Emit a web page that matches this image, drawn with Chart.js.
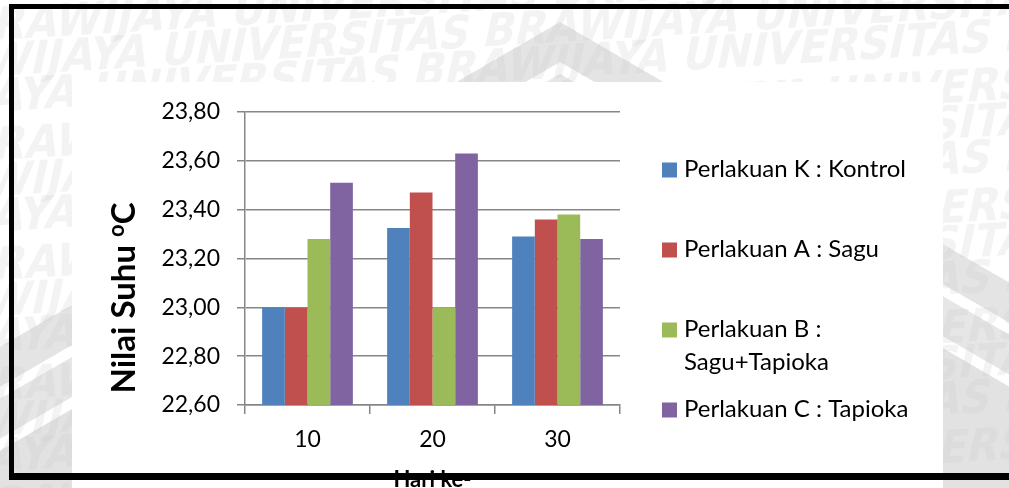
<!DOCTYPE html>
<html>
<head>
<meta charset="utf-8">
<title>Nilai Suhu</title>
<script src="https://cdn.jsdelivr.net/npm/chart.js@4.4.1/dist/chart.umd.min.js"></script>
<style>
  html, body { margin: 0; padding: 0; background: #fff; overflow: hidden; }
  #wrap { position: relative; width: 1009px; height: 488px; }
  canvas { display: block; }
</style>
</head>
<body>
<div id="wrap"><canvas id="chart" width="1009" height="488"></canvas></div>
<script>
// Temperature per observation day for each treatment
const days = ['10', '20', '30'];
const kontrol = [23.00, 23.325, 23.29];
const sagu = [22.997, 23.47, 23.36];
const saguTapioka = [23.28, 23.00, 23.38];
const tapioka = [23.51, 23.63, 23.28];

const seriesLabels = [
  ['Perlakuan K : Kontrol'],
  ['Perlakuan A : Sagu'],
  ['Perlakuan B :', 'Sagu+Tapioka'],
  ['Perlakuan C : Tapioka']
];
const seriesColors = ['#4F81BD', '#C0504D', '#9BBB59', '#8064A2'];
const yTicks = [22.6, 22.8, 23.0, 23.2, 23.4, 23.6, 23.8];
const yTitleParts = ['Nilai Suhu ', 'o', 'C'];
const xTitle = 'Hari ke-';
const watermarkWords = ['BRAWIJAYA', 'UNIVERSITAS'];

const FONT = 'Lato, "Open Sans", "DejaVu Sans", sans-serif';
const AXIS_GREY = '#868686';

// Page backdrop: faint lettering and logo chevrons, then the white chart panel
const backdrop = {
  id: 'backdrop',
  beforeDraw(chart) {
    const ctx = chart.ctx;
    const W = chart.width, H = chart.height;
    ctx.save();
    ctx.fillStyle = '#ffffff';
    ctx.fillRect(0, 0, W, H);

    // chevron bands
    const apexX = 560, slope = 0.58;
    const bands = [[22, 62, '#e4e4e4'], [74, 114, '#e6e6e6'], [126, 600, '#e2e2e2']];
    bands.forEach(([y0, y1, col]) => {
      ctx.fillStyle = col;
      ctx.beginPath();
      ctx.moveTo(0, y0 + slope * apexX);
      ctx.lineTo(apexX, y0);
      ctx.lineTo(W, y0 + slope * (W - apexX));
      ctx.lineTo(W, y1 + slope * (W - apexX));
      ctx.lineTo(apexX, y1);
      ctx.lineTo(0, y1 + slope * apexX);
      ctx.closePath();
      ctx.fill();
    });

    // repeated lettering
    ctx.font = 'bold 46px "Liberation Sans Narrow", "DejaVu Sans Condensed", "Roboto", sans-serif';
    ctx.fillStyle = 'rgba(200,200,200,0.22)';
    ctx.textBaseline = 'alphabetic';
    const line = (watermarkWords.join(' ') + ' ').repeat(4);
    for (let r = 0; r < 13; r++) {
      ctx.save();
      ctx.setTransform(1, -0.06, -0.22, 1, -40 - (r % 3) * 70, 42 + r * 40);
      ctx.fillText(line, 0, 0);
      ctx.restore();
    }

    // white chart panel
    ctx.fillStyle = '#ffffff';
    ctx.fillRect(72, 82, 871, H - 82);
    ctx.restore();
  }
};

// Legend entries, axis titles and the black outer frame
const overlay = {
  id: 'overlay',
  afterDraw(chart) {
    const ctx = chart.ctx;
    const W = chart.width;
    ctx.save();

    // legend
    const baselines = [[177], [257], [337, 370], [417]];
    ctx.font = '24px ' + FONT;
    ctx.textBaseline = 'alphabetic';
    ctx.textAlign = 'left';
    chart.data.datasets.forEach((ds, i) => {
      const rows = baselines[i];
      ctx.fillStyle = ds.backgroundColor;
      ctx.fillRect(662, rows[0] - 14.5, 15, 15);
      ctx.fillStyle = '#000';
      ds.label.forEach((t, j) => ctx.fillText(t, 684, rows[j]));
    });

    // y-axis title with raised "o" before C
    ctx.save();
    ctx.translate(135, 298);
    ctx.rotate(-Math.PI / 2);
    ctx.fillStyle = '#000';
    ctx.textAlign = 'left';
    const big = 'bold 33px ' + FONT, small = 'bold 22px ' + FONT;
    ctx.font = big;
    const w0 = ctx.measureText(yTitleParts[0]).width;
    const w2 = ctx.measureText(yTitleParts[2]).width;
    ctx.font = small;
    const w1 = ctx.measureText(yTitleParts[1]).width;
    let x = -(w0 + w1 + w2) / 2;
    ctx.font = big;
    ctx.fillText(yTitleParts[0], x, 0);
    x += w0;
    ctx.font = small;
    ctx.fillText(yTitleParts[1], x, -11);
    x += w1;
    ctx.font = big;
    ctx.fillText(yTitleParts[2], x, 0);
    ctx.restore();

    // x-axis title
    const area = chart.chartArea;
    ctx.font = 'bold 22px ' + FONT;
    ctx.textAlign = 'center';
    ctx.fillStyle = '#000';
    ctx.fillText(xTitle, (area.left + area.right) / 2, 487);

    // frame
    ctx.fillStyle = '#000';
    ctx.fillRect(9, 4, W - 9, 5);
    ctx.fillRect(9, 4, 5, 476);
    ctx.fillRect(9, 473, W - 9, 7);
    ctx.restore();
  }
};

const seriesValues = [kontrol, sagu, saguTapioka, tapioka];

new Chart(document.getElementById('chart'), {
  type: 'bar',
  data: {
    labels: days,
    datasets: seriesValues.map((vals, i) => ({
      label: seriesLabels[i],
      data: vals,
      backgroundColor: seriesColors[i],
      borderWidth: 0,
      categoryPercentage: 0.726,
      barPercentage: 1
    }))
  },
  options: {
    responsive: false,
    devicePixelRatio: 1,
    animation: false,
    layout: { padding: { left: 140, right: 389, top: 112, bottom: 0 } },
    plugins: { legend: { display: false }, tooltip: { enabled: false } },
    scales: {
      x: {
        offset: true,
        grid: { offset: true, drawOnChartArea: false, drawTicks: true, tickLength: 9, color: AXIS_GREY, lineWidth: 1.5 },
        border: { display: true, color: AXIS_GREY, width: 1.5 },
        ticks: { color: '#000', font: { family: FONT, size: 23 }, padding: 12, maxRotation: 0 },
        afterFit(scale) { scale.height = 83; }
      },
      y: {
        min: 22.6,
        max: 23.8,
        afterBuildTicks(scale) { scale.ticks = yTicks.map(v => ({ value: v })); },
        grid: { color: AXIS_GREY, lineWidth: 1.5, tickLength: 8, drawTicks: true },
        border: { display: true, color: AXIS_GREY, width: 1.5 },
        ticks: {
          color: '#000',
          font: { family: FONT, size: 23 },
          padding: 17,
          callback: v => Number(v).toFixed(2).replace('.', ',')
        },
        afterFit(scale) { scale.width = 105; }
      }
    }
  },
  plugins: [backdrop, overlay]
});
</script>
</body>
</html>
